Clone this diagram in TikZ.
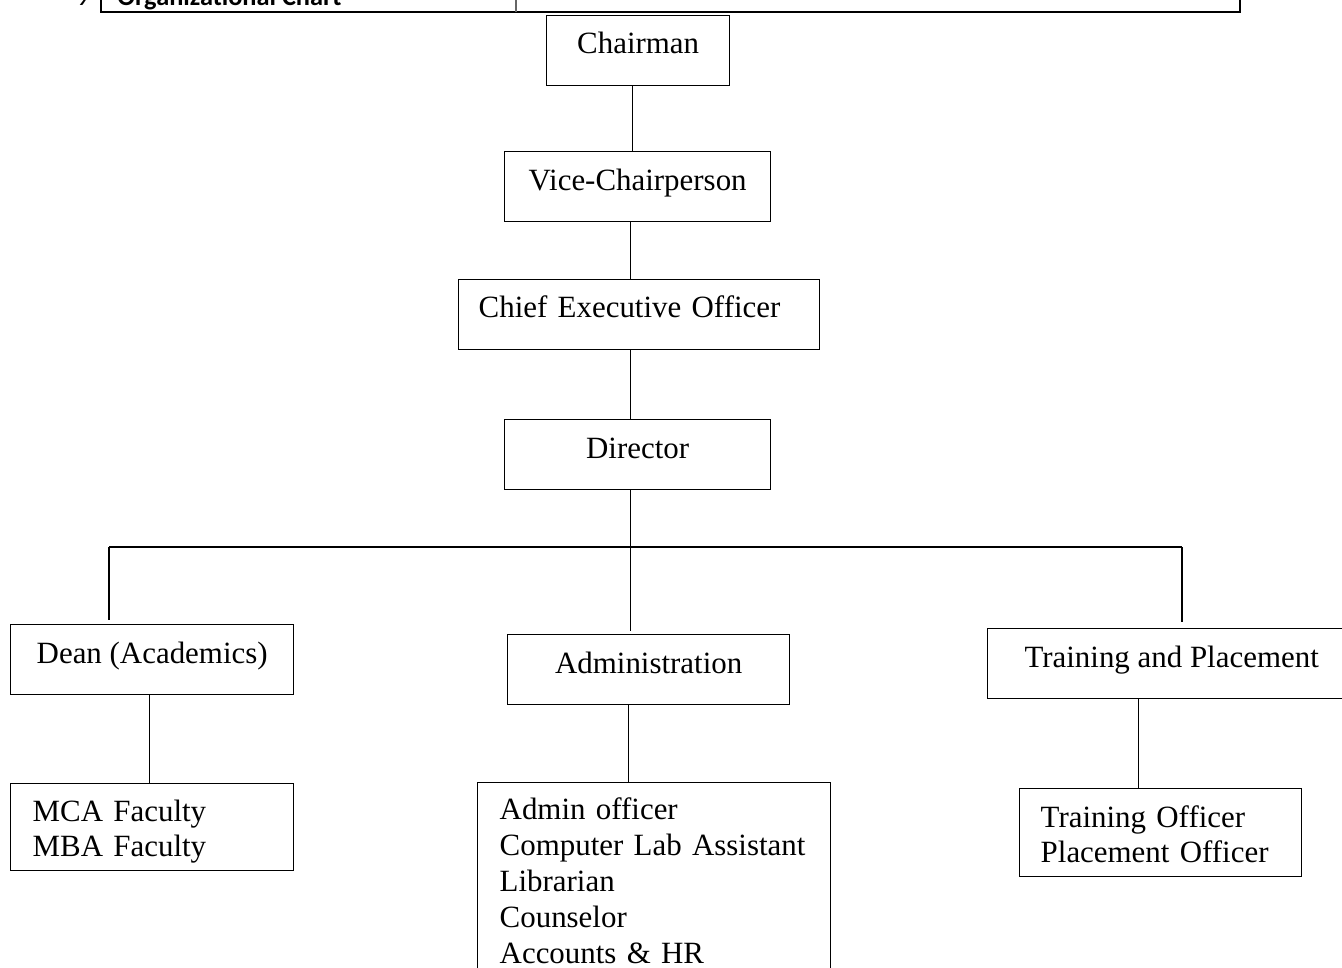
\documentclass[tikz,border=0pt]{standalone}
\usepackage{fontspec}
\setmainfont{Liberation Serif}
\newfontfamily\hdrfont{Carlito}
\usetikzlibrary{positioning,calc}
\newcommand{\orgfont}{\fontsize{17.6}{20}\selectfont}

\begin{document}
\begin{tikzpicture}[x=0.02cm,y=-0.02cm,
  orgbox/.style={draw,line width=0.8pt,anchor=north west,inner sep=0pt,font=\orgfont},
  listbox/.style={orgbox,align=left},
  link/.style={line width=0.8pt}]
\useasboundingbox (0,0) rectangle (1342,967);
\clip (0,0) rectangle (1342,967);

% Table row above the chart (cut off at the top)
\draw[line width=1.3pt] (101,-30) -- (101,12) -- (1240,12) -- (1240,-30);
\draw[line width=0.6pt,black!60] (516,-30) -- (516,12);
\node[anchor=base west,inner sep=0pt,font=\hdrfont\fontsize{15}{18}\selectfont] (num) at (76,5) {9};
\node[anchor=base west,inner sep=0pt,font=\hdrfont\bfseries\fontsize{15}{18}\selectfont] (title) at (117,5) {Organizational Chart};

% Top of the chart
\node[orgbox,minimum width=3.66cm,text height=0.76cm,text depth=0.64cm] (chair) at (546,15) {Chairman};
\node[orgbox,minimum width=5.32cm,text height=0.78cm,text depth=0.62cm] (vice) at (504,151) {Vice-Chairperson};
\node[listbox,inner xsep=0.4cm,text width=6.42cm,text height=0.76cm,text depth=0.64cm] (ceo) at (458,279) {Chief Executive Officer};
\node[orgbox,minimum width=5.32cm,text height=0.78cm,text depth=0.62cm] (dir) at (504,419) {Director};

% Departments
\node[orgbox,minimum width=5.66cm,text height=0.78cm,text depth=0.62cm] (dean) at (10,624) {Dean (Academics)};
\node[orgbox,minimum width=5.64cm,text height=0.78cm,text depth=0.62cm] (admin) at (507,634) {Administration};
\node[orgbox,minimum width=7.36cm,text height=0.78cm,text depth=0.62cm] (train) at (987,628) {Training and Placement};

% Staff lists
\node[listbox,inner xsep=0.44cm,text width=4.78cm,text height=0.76cm,text depth=0.98cm] (faculty) at (10,783) {MCA Faculty\\MBA Faculty};
\node[listbox,inner xsep=0.44cm,text width=6.18cm,text height=0.74cm,text depth=3.62cm,
  font=\fontsize{17.6}{20.4}\selectfont] (staff) at (477,782) {Admin officer\\Computer Lab Assistant\\Librarian\\Counselor\\Accounts \& HR};
\node[listbox,inner xsep=0.42cm,text width=4.8cm,text height=0.78cm,text depth=0.98cm] (officer) at (1019,788) {Training Officer\\Placement Officer};

% Vertical links
\coordinate (chairtap) at ([xshift=-0.11cm]chair.south);
\coordinate (vicetap) at ([xshift=-0.14cm]vice.south);
\coordinate (ceotap) at ([xshift=-0.17cm]ceo.south);
\coordinate (dirtap) at ([xshift=-0.14cm]dir.south);
\coordinate (deantap) at ([xshift=-0.05cm]dean.south);
\coordinate (admintap) at ([xshift=-0.4cm]admin.south);
\coordinate (traintap) at ([xshift=-0.66cm]train.south);
\draw[link] (chairtap) -- (chairtap |- vice.north);
\draw[link] (vicetap) -- (vicetap |- ceo.north);
\draw[link] (ceotap) -- (ceotap |- dir.north);
\draw[link,shorten >=0.06cm] (dirtap) -- (dirtap |- admin.north);
\draw[link] (deantap) -- (deantap |- faculty.north);
\draw[link] (admintap) -- (admintap |- staff.north);
\draw[link] (traintap) -- (traintap |- officer.north);

% Bus line to the departments
\coordinate (busL) at (109,547);
\coordinate (busR) at (1182,547);
\draw[link] (busL) -- (busR);
\draw[link,shorten >=0.08cm] (busL) -- (busL |- dean.north);
\draw[link,shorten >=0.12cm] (busR) -- (busR |- train.north);
\end{tikzpicture}
\end{document}
